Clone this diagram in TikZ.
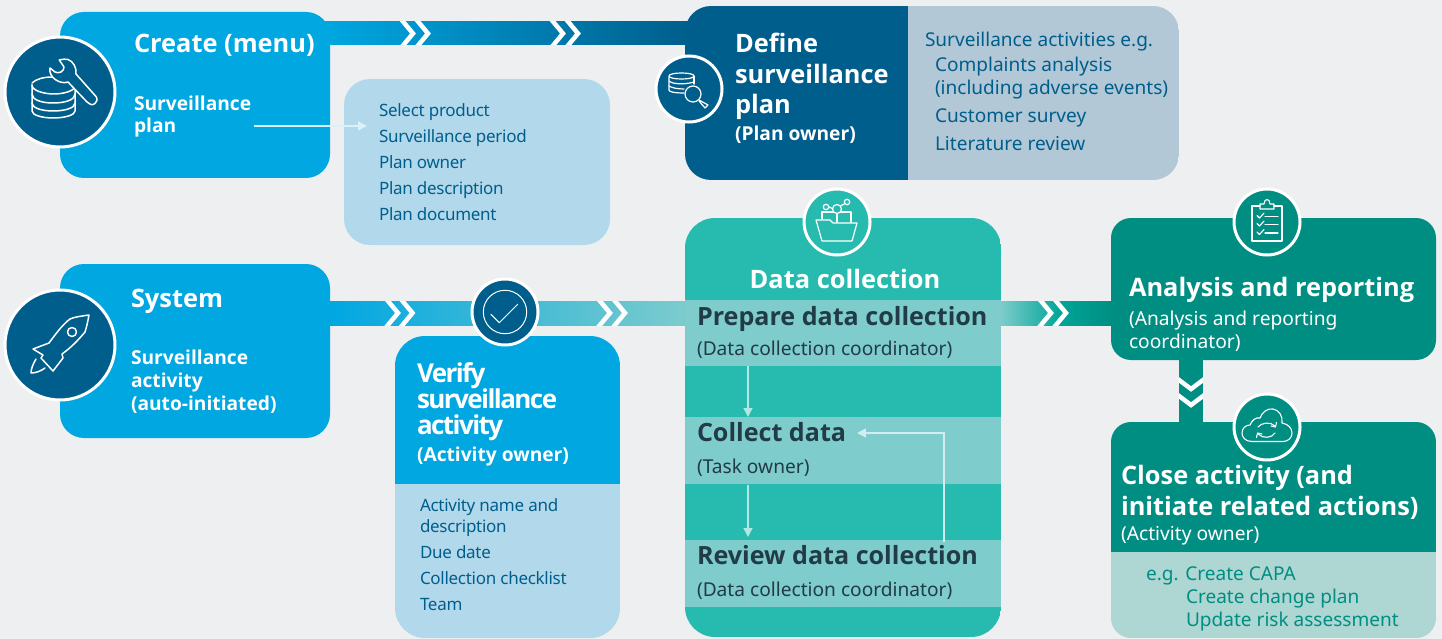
\documentclass[tikz,border=0pt]{standalone}
\usepackage{fontspec}
\setmainfont{Noto Sans}
\newfontfamily\hb{Open Sans}
\usetikzlibrary{arrows.meta}
\definecolor{bgc}{HTML}{EEEFF1}
\definecolor{blueA}{HTML}{00A7E1}
\definecolor{navy}{HTML}{005E8C}
\definecolor{lightB}{HTML}{B2D9EB}
\definecolor{greyB}{HTML}{B2C8D6}
\definecolor{tealA}{HTML}{26BBAE}
\definecolor{tealL}{HTML}{7ECCCC}
\definecolor{tealM}{HTML}{00A598}
\definecolor{tealD}{HTML}{008E83}
\definecolor{tealP}{HTML}{AED6D3}
\definecolor{inkD}{HTML}{213B47}
\tikzset{
 x=1pt,y=-1pt,
 lbl/.style={inner sep=0pt,outer sep=0pt,anchor=base west,align=left},
 ttA/.style={lbl,text=white,font=\fontsize{25.4}{30}\selectfont\hb\bfseries},
 ttV/.style={lbl,text=white,font=\fontsize{26}{30}\selectfont\hb\bfseries\addfontfeature{LetterSpace=-6}},
 ttB/.style={lbl,text=white,font=\fontsize{19.2}{22}\selectfont\hb\bfseries},
 lstA/.style={lbl,text=navy,font=\fontsize{17}{21}\selectfont\addfontfeature{LetterSpace=-1.7}},
 lstB/.style={lbl,text=navy,font=\fontsize{19.05}{23}\selectfont},
 lstC/.style={lbl,text=tealD,font=\fontsize{19.05}{23}\selectfont},
 inkT/.style={lbl,text=inkD,font=\fontsize{25.1}{30}\selectfont\hb\bfseries},
 inkS/.style={lbl,text=inkD,font=\fontsize{19.15}{22}\selectfont},
 whS/.style={lbl,text=white,font=\fontsize{19.2}{22}\selectfont},
 ring/.style={circle,draw=white,line width=3pt,minimum size=#1,inner sep=0pt},
 icon/.style={draw=white,line width=1.5pt,line join=round,line cap=round,fill=none},
 chev/.style={draw=white,line width=4.5pt,line join=miter,fill=none},
 flowarrow/.style={draw=#1,line width=1.4pt,-{Triangle[length=9pt,width=9pt]}},
}
\begin{document}
\begin{tikzpicture}
\useasboundingbox (0,0) rectangle (1442,639);
\fill[bgc] (0,0) rectangle (1442,639);
% bands
\shade[left color=blueA,right color=navy] (325,22) rectangle (690,45);
\shade[left color=blueA,right color=tealL] (330,301) rectangle (690,325);
\shade[left color=tealL,right color=tealM] (1000,301) rectangle (1060,325);
\shade[left color=tealM,right color=tealD] (1060,301) rectangle (1112,325);
\fill[tealD] (1179,355) rectangle (1203,425);
% chevrons
\begin{scope}
\clip (325,22) rectangle (690,45);
\foreach \a in {403,418,553,568}{\draw[chev] (\a-1.7,19.5) -- (\a+10,33.5) -- (\a-1.7,47.5);}
\end{scope}
\begin{scope}
\clip (330,301) rectangle (1112,325);
\foreach \a in {388,402.5,600,615,1041,1056}{\draw[chev] (\a-1.7,299) -- (\a+10,313) -- (\a-1.7,327);}
\end{scope}
\begin{scope}
\clip (1179,355) rectangle (1203,425);
\foreach \b in {380,396}{\draw[chev] (1177,\b-1.5) -- (1191,\b+9) -- (1205,\b-1.5);}
\end{scope}
% boxes
\fill[blueA,rounded corners=24pt] (60,12) rectangle (330,178);
\fill[lightB,rounded corners=26pt] (344,79) rectangle (610,245);
\begin{scope}
\clip[rounded corners=26pt] (685,6) rectangle (1179,180);
\fill[navy] (685,6) rectangle (908,180);
\fill[greyB] (908,6) rectangle (1179,180);
\end{scope}
\fill[blueA,rounded corners=24pt] (60,264) rectangle (330,438);
\begin{scope}
\clip[rounded corners=30pt] (395,336) rectangle (620,638);
\fill[blueA] (395,336) rectangle (620,484);
\fill[lightB] (395,484) rectangle (620,638);
\end{scope}
\begin{scope}
\clip[rounded corners=30pt] (685,218) rectangle (1001,637);
\fill[tealA] (685,218) rectangle (1001,637);
\fill[tealL] (685,300) rectangle (1001,366);
\fill[tealL] (685,417) rectangle (1001,484);
\fill[tealL] (685,540) rectangle (1001,607);
\end{scope}
\fill[tealD,rounded corners=20pt] (1111,218) rectangle (1436,360);
\begin{scope}
\clip[rounded corners=20pt] (1111,422) rectangle (1436,638);
\fill[tealD] (1111,422) rectangle (1436,552);
\fill[tealP] (1111,552) rectangle (1436,638);
\end{scope}
% rings
\node[ring=110pt,fill=navy] (ringA) at (60,92) {};
\node[ring=110pt,fill=navy] (ringB) at (60,345) {};
\node[ring=66pt,fill=navy] (ringC) at (689,89) {};
\node[ring=66pt,fill=navy] (ringD) at (505,312) {};
\node[ring=66pt,fill=tealA] (ringE) at (837,222) {};
\node[ring=66pt,fill=tealD] (ringF) at (1267,222) {};
\node[ring=66pt,fill=tealD] (ringG) at (1267,427) {};
% icon database and wrench
\draw[icon] (32,85) .. controls (32,91) and (45,94) .. (54,94) .. controls (63,94) and (75,91) .. (75,86);
\draw[icon] (32,85) -- (32,111) .. controls (32,115) and (42,118) .. (53,118) .. controls (65,118) and (75,115) .. (75,111) -- (75,86);
\draw[icon] (32,94) .. controls (32,100) and (42,103) .. (53,103) .. controls (65,103) and (75,100) .. (75,94);
\draw[icon] (32,103) .. controls (32,108) and (42,111) .. (53,111) .. controls (65,111) and (75,108) .. (75,103);
\draw[icon] (32,83) .. controls (36,79) and (44,77) .. (52,77);
\filldraw[icon,fill=navy] (59.3,60) .. controls (63,59) and (66,59) .. (68,59.5) .. controls (73,61) and (77,68) .. (76,74) -- (96,96.5) .. controls (98,99) and (97,102) .. (95,103.5) .. controls (92,106) and (89,104) .. (87,102) -- (68,82) .. controls (60,85) and (48,77) .. (50,68) -- (55,72) .. controls (57,73) and (59,73) .. (61,72) .. controls (63,71) and (64,69) .. (64,67) -- cycle;
% icon rocket
\draw[icon] (89,315) .. controls (82,316) and (74,317) .. (70,319) .. controls (62,325) and (55,335) .. (49,343) -- (33,349) -- (43,355) -- (41,358) -- (53,371) -- (63,358) -- (62,354) .. controls (72,347) and (80,338) .. (85,332) .. controls (87,326) and (88,320) .. (89,315) -- cycle;
\draw[icon] (72,332) circle (4.5pt);
\draw[icon] (36,359) .. controls (33,364) and (31,369) .. (31,373) .. controls (36,373) and (41,371) .. (45,368);
% icon db search
\draw[icon,line width=1.2pt] (669,76) .. controls (669,72) and (694,72) .. (694,76) .. controls (694,80) and (669,80) .. (669,76) -- (669,90) .. controls (669,92) and (675,93) .. (684,93);
\draw[icon,line width=1.2pt] (694,76) -- (694,84);
\draw[icon,line width=1.2pt] (669,81) .. controls (672,84) and (684,85) .. (694,82);
\draw[icon,line width=1.2pt] (669,86) .. controls (672,88) and (678,89) .. (684,89);
\draw[icon,line width=1.2pt] (693,94) circle (8pt);
\draw[icon,line width=1.2pt] (699,100) -- (708,105) -- (705,108) -- (699,101);
% icon check
\draw[icon,line width=1pt] (505,312) circle (21.7pt);
\draw[icon,line width=1pt] (491,314.3) -- (499.3,322.7) -- (517.7,304.3);
% icon folder
\draw[icon,line width=1.2pt] (822,219) -- (822,212) -- (851,212) -- (851,222);
\draw[icon,line width=1.2pt] (816,220) -- (830,220) -- (833,223) -- (857,223) -- (852,241) -- (822,241) -- cycle;
\draw[icon,line width=1.2pt] (837,214) -- (837,222);
\filldraw[icon,line width=1.2pt,fill=tealA] (837,209) circle (4.5pt);
\draw[icon,line width=1.2pt] (826,207) circle (2.7pt);
\draw[icon,line width=1.2pt] (847,202) circle (2.7pt);
\draw[icon,line width=1.2pt] (829,207) -- (832.5,208.5);
\draw[icon,line width=1.2pt] (840.5,206) -- (845,203.5);
% icon clipboard
\draw[icon,line width=1.1pt] (1260,206) -- (1252,206) -- (1252,241) -- (1282,241) -- (1282,206) -- (1274,206);
\draw[icon,line width=1.1pt] (1260,209) -- (1260,204) -- (1264,204) .. controls (1264,198) and (1270,198) .. (1270,204) -- (1274,204) -- (1274,209) -- cycle;
\foreach \c in {215.5,223.5,232}{
 \draw[icon,line width=1.1pt] (1257,\c) -- (1259.5,\c+2.5) -- (1264,\c-2.5);
 \draw[icon,line width=1.1pt] (1265,\c+1) -- (1278,\c+1);
}
% icon cloud
\draw[icon,line width=1.1pt] (1252,441.5) .. controls (1245,441.5) and (1242,437) .. (1242,433) .. controls (1242,428) and (1246,425) .. (1250,425) .. controls (1252,420) and (1256,417) .. (1260,418) .. controls (1262,412) and (1268,408) .. (1273,409) .. controls (1279,410) and (1283,416) .. (1282,423) .. controls (1288,424) and (1292,428) .. (1292,433) .. controls (1292,438) and (1288,441.5) .. (1283,441.5) -- cycle;
\draw[icon,line width=1.1pt] (1258,427) .. controls (1261,423) and (1270,421) .. (1275,426);
\draw[icon,line width=1.1pt] (1271,426) -- (1275.5,427) -- (1276.5,422.5);
\draw[icon,line width=1.1pt] (1275,433) .. controls (1272,438) and (1263,439) .. (1258,434);
\draw[icon,line width=1.1pt] (1262,434) -- (1257.5,433) -- (1256.5,437.5);
% connectors
\coordinate (a1) at (254,126);
\coordinate (a2) at (367,126);
\draw[flowarrow={white!85!blueA}] (a1) -- (a2);
\coordinate (d1) at (748,366);
\coordinate (d2) at (748,417);
\coordinate (d3) at (748,485);
\coordinate (d4) at (748,537);
\coordinate (d5) at (944,542);
\coordinate (d6) at (857,433);
\draw[flowarrow={white!65!tealA}] (d1) -- (d2);
\draw[flowarrow={white!65!tealA}] (d3) -- (d4);
\draw[flowarrow={white!65!tealL}] (d5) |- (d6);
% text
\node[ttA] (t1) at (134,53) {Create (menu)};
\node[ttB] (t2) at (134,110.5) {Surveillance};
\node[ttB] (t3) at (134,132.5) {plan};
\node[lstA] (l1) at (379,117) {Select product};
\node[lstA] (l2) at (379,143) {Surveillance period};
\node[lstA] (l3) at (379,169) {Plan owner};
\node[lstA] (l4) at (379,194.5) {Plan description};
\node[lstA] (l5) at (379,220.5) {Plan document};
\node[ttA] (d1t) at (735,53) {Define};
\node[ttA] (d2t) at (735,84) {surveillance};
\node[ttA] (d3t) at (735,114) {plan};
\node[ttB] (d4t) at (735,141) {(Plan owner)};
\node[lstB] (r1) at (925,47) {Surveillance activities e.g.};
\node[lstB] (r2) at (935,72) {Complaints analysis};
\node[lstB] (r3) at (935,95) {(including adverse events)};
\node[lstB] (r4) at (935,123) {Customer survey};
\node[lstB] (r5) at (935,151) {Literature review};
\node[ttA] (s1) at (131,307) {System};
\node[ttB] (s2) at (131,364) {Surveillance};
\node[ttB] (s3) at (131,387) {activity};
\node[ttB] (s4) at (131,410) {(auto-initiated)};
\node[ttV] (v1) at (417,382) {Verify};
\node[ttV] (v2) at (417,408) {surveillance};
\node[ttV] (v3) at (417,434) {activity};
\node[ttB] (v4) at (417,461) {(Activity owner)};
\node[lstA] (w1) at (420,511) {Activity name and};
\node[lstA] (w2) at (420,532) {description};
\node[lstA] (w3) at (420,558) {Due date};
\node[lstA] (w4) at (420,584) {Collection checklist};
\node[lstA] (w5) at (420,610) {Team};
\node[ttA,anchor=base] (c0) at (845,288) {Data collection};
\node[inkT] (c1) at (697,325) {Prepare data collection};
\node[inkS] (c2) at (697,355) {(Data collection coordinator)};
\node[inkT] (c3) at (697,441) {Collect data};
\node[inkS] (c4) at (697,473) {(Task owner)};
\node[inkT] (c5) at (697,564) {Review data collection};
\node[inkS] (c6) at (697,596) {(Data collection coordinator)};
\node[ttA] (n1) at (1129,296) {Analysis and reporting};
\node[whS] (n2) at (1129,325) {(Analysis and reporting};
\node[whS] (n3) at (1129,348) {coordinator)};
\node[ttA] (n4) at (1121,484) {Close activity (and};
\node[ttA] (n5) at (1121,515) {initiate related actions)};
\node[whS] (n6) at (1121,540) {(Activity owner)};
\node[lstC] (e1) at (1146,580) {e.g. Create CAPA};
\node[lstC] (e2) at (1186,603) {Create change plan};
\node[lstC] (e3) at (1186,626) {Update risk assessment};
\end{tikzpicture}
\end{document}
